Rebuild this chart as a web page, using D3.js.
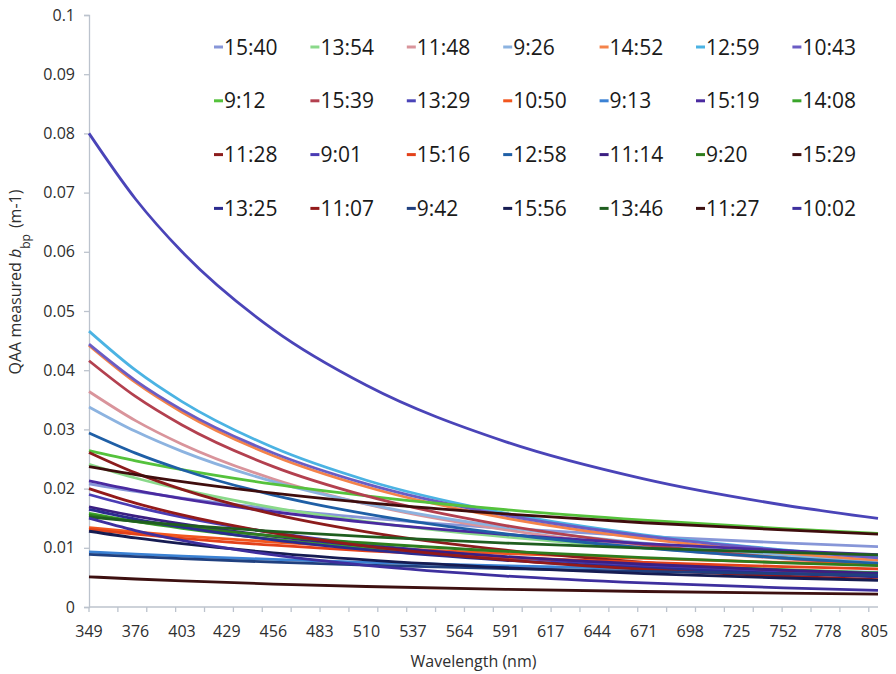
<!DOCTYPE html>
<html>
<head>
<meta charset="utf-8">
<script src="https://cdn.jsdelivr.net/npm/d3@7"></script>
<style>
  html, body { margin: 0; padding: 0; background: #ffffff; }
  svg { display: block; }
  text { font-family: "Open Sans", "Noto Sans", sans-serif; }
</style>
</head>
<body>
<svg id="chart" width="896" height="674"></svg>
<script>
// ---------- DATA ----------
const wavelengths = [349, 376, 403, 456, 510, 591, 671, 752, 807];
const xTickLabels = [349, 376, 403, 429, 456, 483, 510, 537, 564, 591, 617, 644, 671, 698, 725, 752, 778, 805];
const yTickValues = [0, 0.01, 0.02, 0.03, 0.04, 0.05, 0.06, 0.07, 0.08, 0.09, 0.1];
const yTickLabels = ["0", "0.01", "0.02", "0.03", "0.04", "0.05", "0.06", "0.07", "0.08", "0.09", "0.1"];

const seriesNames = [
  "15:40", "13:54", "11:48", "9:26", "14:52", "12:59", "10:43",
  "9:12", "15:39", "13:29", "10:50", "9:13", "15:19", "14:08",
  "11:28", "9:01", "15:16", "12:58", "11:14", "9:20", "15:29",
  "13:25", "11:07", "9:42", "15:56", "13:46", "11:27", "10:02"
];
const seriesColors = [
  "#8796d8", "#8ad98a", "#d9949b", "#8cb3e0", "#f4834a", "#4bb3e3", "#6a5cc4",
  "#55c23c", "#b3404f", "#4a44b8", "#f2561e", "#3b82d4", "#4a2aa0", "#3aa52a",
  "#8c1c1c", "#4a3cb4", "#e3411a", "#1f5fa6", "#3b1f82", "#2e7d1e", "#3f0d0d",
  "#2b2b8f", "#931a1a", "#20407f", "#161c52", "#1f5e1f", "#3d1010", "#3e2f9e"
];

const v1540 = [0.0208, 0.01952, 0.01841, 0.01657, 0.01507, 0.01329, 0.01193, 0.01083, 0.01020];
const v1354 = [0.0241, 0.02179, 0.01985, 0.01680, 0.01444, 0.01184, 0.00997, 0.00855, 0.00777];
const v1148 = [0.0364, 0.03148, 0.02750, 0.02161, 0.01737, 0.01303, 0.01017, 0.00815, 0.00710];
const v0926 = [0.0338, 0.02967, 0.02628, 0.02117, 0.01740, 0.01345, 0.01077, 0.00882, 0.00779];
const v1452 = [0.0442, 0.03794, 0.03291, 0.02555, 0.02031, 0.01501, 0.01157, 0.00916, 0.00792];
const v1259 = [0.0466, 0.04000, 0.03470, 0.02693, 0.02141, 0.01583, 0.01220, 0.00966, 0.00836];
const v1043 = [0.0444, 0.03825, 0.03330, 0.02601, 0.02079, 0.01548, 0.01201, 0.00956, 0.00830];
const v0912 = [0.0264, 0.02469, 0.02320, 0.02075, 0.01877, 0.01643, 0.01466, 0.01323, 0.01242];
const v1539 = [0.0416, 0.03557, 0.03075, 0.02372, 0.01876, 0.01376, 0.01054, 0.00830, 0.00716];
const v1329 = [0.0800, 0.06892, 0.06000, 0.04686, 0.03746, 0.02790, 0.02164, 0.01723, 0.01496];
const v1050 = [0.0134, 0.01267, 0.01203, 0.01097, 0.01008, 0.00903, 0.00821, 0.00753, 0.00715];
const v0913 = [0.0093, 0.00893, 0.00859, 0.00803, 0.00755, 0.00696, 0.00649, 0.00610, 0.00586];
const v1519 = [0.0213, 0.01970, 0.01831, 0.01609, 0.01430, 0.01225, 0.01072, 0.00951, 0.00883];
const v1408 = [0.0158, 0.01445, 0.01329, 0.01146, 0.01002, 0.00840, 0.00721, 0.00629, 0.00578];
const v1128 = [0.0261, 0.02265, 0.01986, 0.01570, 0.01270, 0.00959, 0.00754, 0.00607, 0.00531];
const v0901 = [0.0190, 0.01693, 0.01520, 0.01255, 0.01055, 0.00840, 0.00690, 0.00578, 0.00518];
const v1516 = [0.0131, 0.01230, 0.01159, 0.01044, 0.00949, 0.00837, 0.00752, 0.00682, 0.00642];
const v1258 = [0.0294, 0.02600, 0.02319, 0.01891, 0.01572, 0.01233, 0.01000, 0.00828, 0.00737];
const v1114 = [0.0169, 0.01534, 0.01402, 0.01194, 0.01032, 0.00852, 0.00722, 0.00623, 0.00568];
const v0920 = [0.0155, 0.01444, 0.01352, 0.01202, 0.01081, 0.00940, 0.00833, 0.00747, 0.00699];
const v1529 = [0.0237, 0.02236, 0.02118, 0.01924, 0.01763, 0.01572, 0.01423, 0.01302, 0.01232];
const v1325 = [0.0165, 0.01486, 0.01349, 0.01135, 0.00970, 0.00789, 0.00661, 0.00563, 0.00510];
const v1107 = [0.0200, 0.01755, 0.01555, 0.01253, 0.01030, 0.00796, 0.00637, 0.00522, 0.00461];
const v0942 = [0.0089, 0.00851, 0.00816, 0.00758, 0.00709, 0.00649, 0.00601, 0.00562, 0.00538];
const v1556 = [0.0128, 0.01166, 0.01069, 0.00916, 0.00797, 0.00663, 0.00565, 0.00490, 0.00449];
const v1346 = [0.0152, 0.01448, 0.01384, 0.01277, 0.01188, 0.01079, 0.00994, 0.00923, 0.00881];
const v1127 = [0.0051, 0.00473, 0.00440, 0.00388, 0.00346, 0.00298, 0.00262, 0.00233, 0.00217];
const v1002 = [0.0150, 0.01292, 0.01125, 0.00879, 0.00702, 0.00523, 0.00406, 0.00323, 0.00281];

const seriesValues = [
  v1540, v1354, v1148, v0926, v1452, v1259, v1043,
  v0912, v1539, v1329, v1050, v0913, v1519, v1408,
  v1128, v0901, v1516, v1258, v1114, v0920, v1529,
  v1325, v1107, v0942, v1556, v1346, v1127, v1002
];

// ---------- LAYOUT ----------
const svg = d3.select("#chart");
const plot = { left: 89, right: 878, top: 15, bottom: 607 };
const axisColor = "#bcc3cd";
const textColor = "#2e2e2e";

const x = d3.scaleLinear().domain([349, 807]).range([plot.left, plot.right]);
const y = d3.scaleLinear().domain([0, 0.1]).range([plot.bottom, plot.top]);

// ---------- Y AXIS ----------
const yAxis = svg.append("g")
  .attr("transform", `translate(${plot.left},0)`)
  .call(d3.axisLeft(y).tickValues(yTickValues)
    .tickFormat((d, i) => yTickLabels[i]).tickSize(5).tickPadding(9));
yAxis.select(".domain").attr("stroke", axisColor).attr("stroke-width", 1.3);
yAxis.selectAll(".tick line").attr("stroke", axisColor).attr("stroke-width", 1.3);
yAxis.selectAll(".tick text").attr("fill", textColor)
  .style("font-size", "16px").style("font-family", "'Open Sans', sans-serif");

// ---------- X AXIS ----------
// tick marks every 10 bands (band step 1.6765 nm), labels every 16 bands
const bandStep = 456 / 272;
const tickMarkValues = d3.range(0, 28).map(k => 349 + k * 10 * bandStep);
const xg = svg.append("g").attr("transform", `translate(0,${plot.bottom})`);
xg.append("line")
  .attr("x1", plot.left).attr("x2", plot.right)
  .attr("stroke", axisColor).attr("stroke-width", 1.3);
xg.selectAll("line.tk").data(tickMarkValues).join("line")
  .attr("class", "tk")
  .attr("x1", d => x(d)).attr("x2", d => x(d))
  .attr("y1", 0).attr("y2", 5)
  .attr("stroke", axisColor).attr("stroke-width", 1.3);
xg.selectAll("text.lbl").data(xTickLabels).join("text")
  .attr("class", "lbl")
  .attr("x", d => x(d)).attr("y", 30)
  .attr("text-anchor", "middle")
  .attr("fill", textColor)
  .style("font-size", "16px")
  .text(d => d);

// ---------- AXIS TITLES ----------
svg.append("text")
  .attr("x", (plot.left + plot.right) / 2 - 10).attr("y", 667)
  .attr("text-anchor", "middle").attr("fill", textColor)
  .style("font-size", "16px")
  .text("Wavelength (nm)");

const yt = svg.append("text")
  .attr("transform", "translate(21,282) rotate(-90)")
  .attr("text-anchor", "middle").attr("fill", textColor)
  .style("font-size", "16px");
yt.append("tspan").text("QAA measured ");
yt.append("tspan").style("font-style", "italic").text("b");
yt.append("tspan").attr("baseline-shift", "sub").style("font-size", "12px").text("bp");
yt.append("tspan").attr("dx", 6).text("(m-1)");

// ---------- LINES ----------
const line = d3.line()
  .x((d, i) => x(wavelengths[i]))
  .y(d => y(d))
  .curve(d3.curveMonotoneX);

svg.append("g").selectAll("path")
  .data(seriesValues).join("path")
  .attr("d", d => line(d))
  .attr("fill", "none")
  .attr("stroke", (d, i) => seriesColors[i])
  .attr("stroke-width", 2.8)
  .attr("stroke-linejoin", "round");

// ---------- LEGEND ----------
const legend = svg.append("g");
const colW = 96.4, rowH = 53.8, lx0 = 214, ly0 = 47;
seriesNames.forEach((name, i) => {
  const c = i % 7, r = Math.floor(i / 7);
  const gx = lx0 + c * colW, gy = ly0 + r * rowH;
  legend.append("line")
    .attr("x1", gx).attr("x2", gx + 9)
    .attr("y1", gy).attr("y2", gy)
    .attr("stroke", seriesColors[i]).attr("stroke-width", 3);
  legend.append("text")
    .attr("x", gx + 10).attr("y", gy)
    .attr("dy", "0.36em")
    .attr("fill", "#1a1a1a")
    .style("font-size", "21px")
    .text(name);
});
</script>
</body>
</html>
